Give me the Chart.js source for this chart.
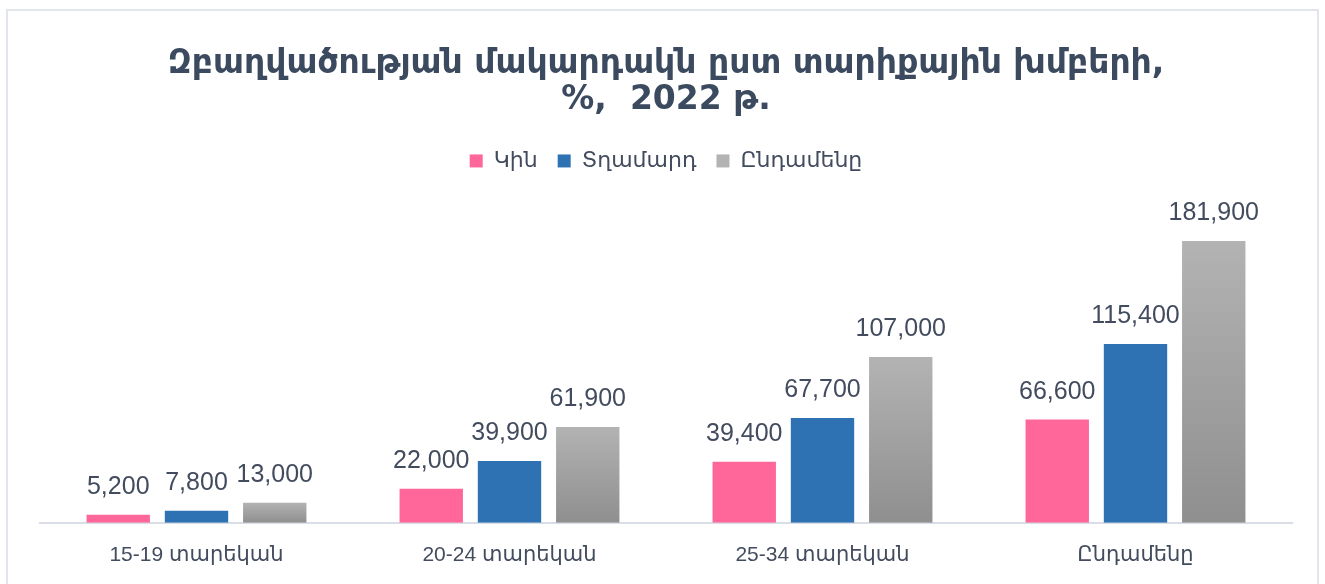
<!DOCTYPE html>
<html>
<head>
<meta charset="utf-8">
<script src="https://cdn.jsdelivr.net/npm/chart.js@4"></script>
<style>
  html, body { margin: 0; padding: 0; background: #fff; }
  body { width: 1325px; height: 584px; position: relative; overflow: hidden; }
  .frame { position: absolute; left: 6px; top: 9px; width: 1313px; height: 590px; border: 2px solid #e2e5ec; box-sizing: border-box; }
  canvas { position: absolute; left: 0; top: 0; }
</style>
</head>
<body>
<div class="frame"></div>
<canvas id="chart" width="1325" height="584"></canvas>
<script>
// data
const categories = ['15-19 տարեկան', '20-24 տարեկան', '25-34 տարեկան', 'Ընդամենը'];
const women = [5200, 22000, 39400, 66600];
const men = [7800, 39900, 67700, 115400];
const total = [13000, 61900, 107000, 181900];
const seriesNames = ['Կին', 'Տղամարդ', 'Ընդամենը'];

const textColor = '#434c5e';

// grey bars get a vertical gradient, per bar
function greyGradient(context) {
  const chart = context.chart;
  const area = chart.chartArea;
  if (!area) return '#a0a0a0';
  const y = chart.scales.y;
  const top = y.getPixelForValue(context.raw);
  const bottom = y.getPixelForValue(0);
  if (!isFinite(top) || top === bottom) return '#a0a0a0';
  const g = chart.ctx.createLinearGradient(0, top, 0, bottom);
  g.addColorStop(0, '#b3b3b3');
  g.addColorStop(1, '#8f8f8f');
  return g;
}

// values above the bars
const valueLabels = {
  id: 'valueLabels',
  afterDatasetsDraw(chart) {
    const ctx = chart.ctx;
    ctx.save();
    ctx.font = '25px "Liberation Sans", Arial, sans-serif';
    ctx.fillStyle = textColor;
    ctx.textAlign = 'center';
    ctx.textBaseline = 'bottom';
    chart.data.datasets.forEach((ds, i) => {
      chart.getDatasetMeta(i).data.forEach((bar, j) => {
        ctx.fillText(ds.data[j].toLocaleString('en-US'), bar.x, bar.y - 15);
      });
    });
    ctx.restore();
  }
};

new Chart(document.getElementById('chart'), {
  type: 'bar',
  data: {
    labels: categories,
    datasets: [
      { label: seriesNames[0], data: women, backgroundColor: '#ff6699' },
      { label: seriesNames[1], data: men, backgroundColor: '#2e72b4' },
      { label: seriesNames[2], data: total, backgroundColor: greyGradient }
    ]
  },
  options: {
    responsive: false,
    animation: false,
    categoryPercentage: 0.75,
    barPercentage: 0.81,
    layout: { padding: { left: 40, right: 33, top: 0, bottom: 4 } },
    plugins: {
      title: {
        display: true,
        text: ['Զբաղվածության մակարդակն ըստ տարիքային խմբերի,', '%,  2022 թ.'],
        color: '#3b4a5f',
        font: { family: '"DejaVu Sans", sans-serif', size: 33, weight: 'bold', lineHeight: 1.09 },
        padding: { top: 46, bottom: 12 }
      },
      legend: {
        position: 'top',
        labels: {
          color: textColor,
          boxWidth: 13,
          boxHeight: 13,
          padding: 20,
          font: { family: '"DejaVu Sans", sans-serif', size: 22 }
        }
      },
      tooltip: { enabled: false }
    },
    scales: {
      x: {
        grid: { display: false },
        border: { display: true, color: '#d9dde6', width: 2 },
        ticks: {
          color: textColor,
          padding: 12,
          font: { family: '"Liberation Sans", "DejaVu Sans", sans-serif', size: 21 }
        }
      },
      y: {
        display: false,
        min: 0,
        max: 220000
      }
    }
  },
  plugins: [valueLabels]
});
</script>
</body>
</html>
